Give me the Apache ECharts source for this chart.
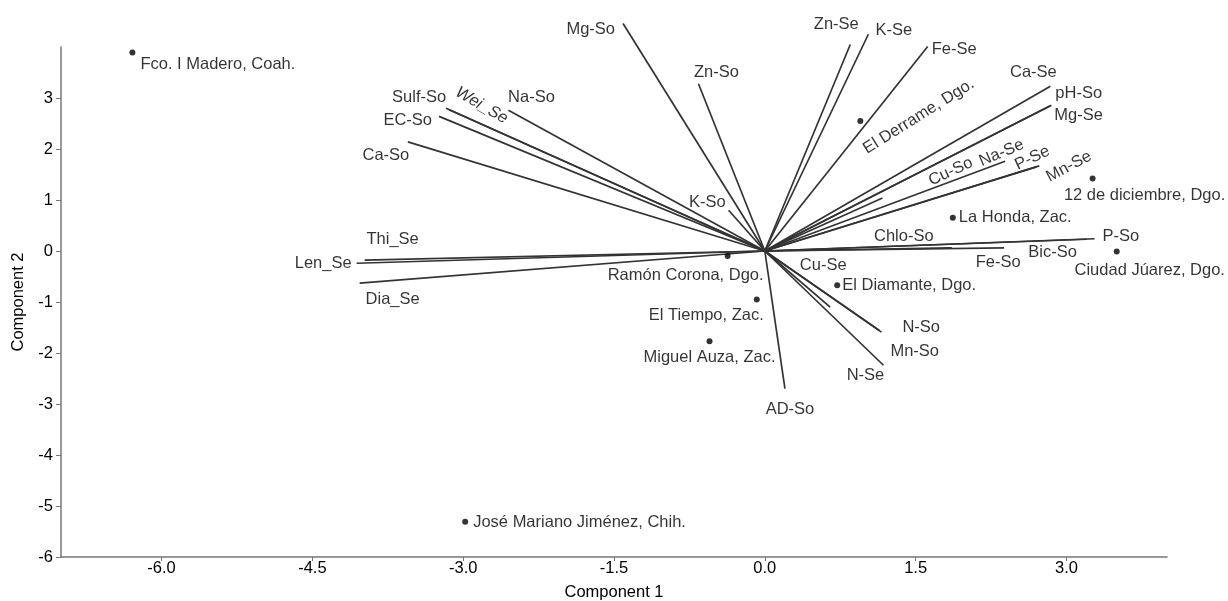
<!DOCTYPE html>
<html>
<head>
<meta charset="utf-8">
<script src="https://cdn.jsdelivr.net/npm/echarts@6/dist/echarts.min.js"></script>
<style>
  html, body { margin: 0; padding: 0; background: #fff; }
  #chart { width: 1228px; height: 601px; }
</style>
</head>
<body>
<div id="chart"></div>
<script>
// sites (scores)
const siteNames = ['Fco. I Madero, Coah.', 'José Mariano Jiménez, Chih.', 'El Tiempo, Zac.', 'Miguel Auza, Zac.',
  'Ramón Corona, Dgo.', 'El Derrame, Dgo.', '12 de diciembre, Dgo.', 'La Honda, Zac.', 'Ciudad Júarez, Dgo.', 'El Diamante, Dgo.'];
const siteX = [-6.29, -2.98, -0.08, -0.55, -0.37, 0.95, 3.26, 1.87, 3.50, 0.72];
const siteY = [3.89, -5.31, -0.95, -1.77, -0.10, 2.55, 1.42, 0.65, -0.01, -0.67];

// variables (loadings)
const varNames = ['Mg-So', 'Zn-So', 'Na-So', 'Wei_Se', 'Sulf-So', 'EC-So', 'Ca-So', 'K-So', 'Len_Se', 'Thi_Se', 'Dia_Se',
  'Zn-Se', 'K-Se', 'Fe-Se', 'Ca-Se', 'pH-So', 'Mg-Se', 'Cu-So', 'Na-Se', 'P-Se', 'Mn-Se', 'Chlo-So', 'P-So', 'Fe-So',
  'Bic-So', 'N-So', 'Mn-So', 'N-Se', 'Cu-Se', 'AD-So'];
const varX = [-1.41, -0.66, -2.55, -3.14, -3.17, -3.24, -3.55, -0.36, -4.06, -3.98, -4.03,
  0.85, 1.03, 1.62, 2.84, 2.85, 2.84, 1.17, 2.39, 2.73, 2.70, 1.86, 3.28, 2.38,
  3.20, 1.16, 1.14, 1.18, 0.65, 0.20];
const varY = [4.46, 3.28, 2.76, 2.77, 2.80, 2.64, 2.14, 0.80, -0.24, -0.18, -0.63,
  4.05, 4.25, 4.01, 3.23, 2.86, 2.85, 1.04, 1.76, 1.67, 1.65, 0.06, 0.24, 0.06,
  0.23, -1.59, -1.56, -2.24, -1.10, -2.70];

const xTicks = [-6.0, -4.5, -3.0, -1.5, 0.0, 1.5, 3.0];
const yTicks = [-6, -5, -4, -3, -2, -1, 0, 1, 2, 3];

// label placement: [position, offset, rotate]
const siteLabel = {
  'Fco. I Madero, Coah.': ['right', [0, 12]],
  'José Mariano Jiménez, Chih.': ['right', [0, 1]],
  'El Tiempo, Zac.': ['left', [15, 16]],
  'Miguel Auza, Zac.': ['bottom', [0, 0]],
  'Ramón Corona, Dgo.': ['left', [44, 19]],
  'El Derrame, Dgo.': ['inside', [52, 27], 32],
  '12 de diciembre, Dgo.': ['bottom', [52, 0]],
  'La Honda, Zac.': ['right', [-2, 0]],
  'Ciudad Júarez, Dgo.': ['bottom', [33, 2]],
  'El Diamante, Dgo.': ['right', [-3, 0]]
};
const varLabel = {
  'Mg-So': ['left', [-3, 6]],
  'Zn-So': ['top', [18, 2]],
  'Na-So': ['top', [23, 1]],
  'Wei_Se': ['inside', [26, -20], -30],
  'Sulf-So': ['top', [-27, 3]],
  'EC-So': ['left', [-2, 4]],
  'Ca-So': ['bottom', [-22, 0]],
  'K-So': ['left', [2, -8]],
  'Len_Se': ['left', [0, 0]],
  'Thi_Se': ['top', [28, -7]],
  'Dia_Se': ['bottom', [33, 3]],
  'Zn-Se': ['top', [-14, -6]],
  'K-Se': ['right', [2, -4]],
  'Fe-Se': ['right', [-1, 3]],
  'Ca-Se': ['top', [-17, 0]],
  'pH-So': ['right', [-1, -12]],
  'Mg-Se': ['right', [-1, 10]],
  'Cu-So': ['inside', [73, 5], 25],
  'Na-Se': ['inside', [0, -9], 23],
  'P-Se': ['inside', [-3, -10], 25],
  'Mn-Se': ['inside', [29, 15], 28],
  'Chlo-So': ['top', [-48, 2]],
  'P-So': ['right', [3, -2]],
  'Fe-So': ['bottom', [-6, 1]],
  'Bic-So': ['bottom', [-34, 0]],
  'N-So': ['right', [16, -5]],
  'Mn-So': ['right', [6, 21]],
  'N-Se': ['bottom', [-18, -3]],
  'Cu-Se': ['top', [-7, -28]],
  'AD-So': ['bottom', [5, 7]]
};

const textStyle = { color: '#000', fontFamily: 'Liberation Sans, Arial, sans-serif', fontSize: 16.5 };

function labelFor(spec) {
  const l = Object.assign({ show: true, position: spec[0], offset: spec[1], distance: 5 }, textStyle);
  if (spec[2] !== undefined) {
    l.rotate = spec[2];
    l.align = 'center';
    l.verticalAlign = 'middle';
  }
  return l;
}

const chart = echarts.init(document.getElementById('chart'), null, { renderer: 'canvas' });

const option = {
  animation: false,
  backgroundColor: '#fff',
  grid: { left: 61, right: 61, top: 47, bottom: 44, containLabel: false, outerBoundsMode: 'none' },
  xAxis: {
    type: 'value', min: -7, max: 4,
    name: 'Component 1', nameLocation: 'middle', nameGap: 27,
    nameTextStyle: textStyle,
    axisLine: { onZero: false, lineStyle: { color: '#777', width: 1.5 } },
    axisTick: { show: true, length: 4, customValues: xTicks, lineStyle: { color: '#777' } },
    axisLabel: Object.assign({ customValues: xTicks, margin: 3, formatter: v => v.toFixed(1) }, textStyle),
    splitLine: { show: false }
  },
  yAxis: {
    type: 'value', min: -6, max: 4,
    name: 'Component 2', nameLocation: 'middle', nameGap: 28,
    nameTextStyle: textStyle,
    axisLine: { show: true, onZero: false, lineStyle: { color: '#777', width: 1.5 } },
    axisTick: { show: true, length: 5, customValues: yTicks, lineStyle: { color: '#777' } },
    axisLabel: Object.assign({ customValues: yTicks, margin: 8 }, textStyle),
    splitLine: { show: false }
  },
  series: [
    {
      type: 'lines',
      coordinateSystem: 'cartesian2d',
      clip: false,
      silent: true,
      lineStyle: { color: '#333', width: 1.7, opacity: 1 },
      data: varNames.map((n, i) => ({ coords: [[0, 0], [varX[i], varY[i]]] }))
    },
    {
      type: 'scatter',
      clip: false,
      symbolSize: 0,
      silent: true,
      data: varNames.map((n, i) => {
        const lab = labelFor(varLabel[n]);
        if (n === 'Wei_Se') lab.fontStyle = 'italic';
        lab.formatter = n;
        return { value: [varX[i], varY[i]], label: lab };
      })
    },
    {
      type: 'scatter',
      clip: false,
      symbolSize: 6,
      itemStyle: { color: '#000' },
      data: siteNames.map((n, i) => {
        const lab = labelFor(siteLabel[n]);
        lab.formatter = n;
        return { value: [siteX[i], siteY[i]], label: lab };
      })
    }
  ]
};

chart.setOption(option);
</script>
</body>
</html>
